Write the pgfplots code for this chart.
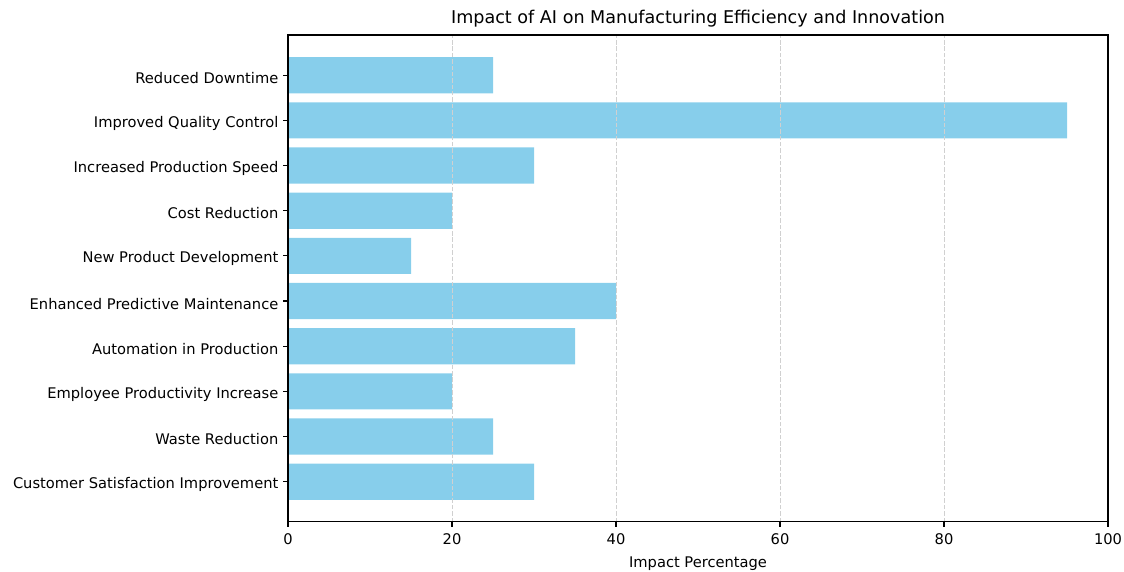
\documentclass[border=0pt]{standalone}
\usepackage{fontspec}
\setmainfont{DejaVu Sans}
\usepackage{pgfplots}
\pgfplotsset{compat=1.18}
\definecolor{skyblue}{HTML}{87CEEB}
\definecolor{gridgray}{HTML}{D0D0D0}
\begin{document}
\begin{tikzpicture}
\path[use as bounding box] (-207.4bp,-36bp) rectangle (601.9bp,375.8bp);
\begin{axis}[
    at={(0,0)}, anchor=south west,
    width=590.4bp, height=350.6bp,
    scale only axis,
    axis on top,
    xbar, bar width=0.8, bar shift=0pt,
    xmin=0, xmax=100,
    ymin=-0.89, ymax=9.89,
    xtick={0,20,40,60,80,100},
    ytick={0,...,9},
    yticklabels={Customer Satisfaction Improvement, Waste Reduction, Employee Productivity Increase, Automation in Production, Enhanced Predictive Maintenance, New Product Development, Cost Reduction, Increased Production Speed, Improved Quality Control, Reduced Downtime},
    xmajorgrids,
    major grid style={gridgray, line width=0.7pt, dash pattern=on 3.2pt off 1.4pt},
    tick align=outside,
    major tick length=3.5pt,
    tick style={black, line width=0.8pt},
    axis line style={line width=0.8pt},
    xtick pos=bottom, ytick pos=left,
    tick label style={font=\fontsize{10.6}{12.7}\selectfont},
    yticklabel style={yshift=-2pt},
    xticklabel style={yshift=-1.5pt},
    /pgf/number format/assume math mode=true,
    xlabel={Impact Percentage},
    xlabel style={font=\fontsize{10.6}{12.7}\selectfont, yshift=-2pt},
    title={Impact of AI on Manufacturing Efficiency and Innovation},
    title style={font=\fontsize{12.7}{15}\selectfont, yshift=-4pt},
]
\addplot[fill=skyblue, draw=none] coordinates {
    (30,0) (25,1) (20,2) (35,3) (40,4) (15,5) (20,6) (30,7) (95,8) (25,9)
};
\end{axis}
\end{tikzpicture}
\end{document}
